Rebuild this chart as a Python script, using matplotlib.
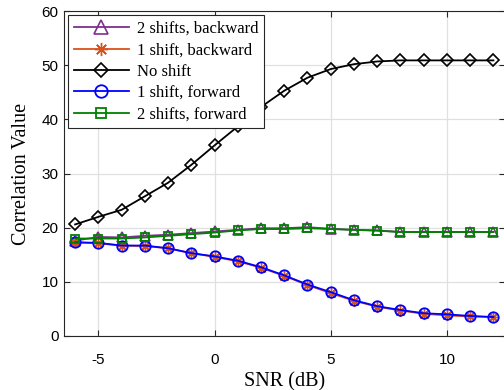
import numpy as np
import matplotlib
matplotlib.use("Agg")
import matplotlib.pyplot as plt

plt.rcParams["axes.unicode_minus"] = False

# SNR points and correlation values
snr = [-6, -5, -4, -3, -2, -1, 0, 1, 2, 3, 4, 5, 6, 7, 8, 9, 10, 11, 12]

two_back = [17.6, 18.3, 18.2, 18.5, 18.7, 19.0, 19.3, 19.6, 19.9, 19.9, 20.1,
            19.8, 19.6, 19.5, 19.2, 19.2, 19.2, 19.2, 19.2]
one_back = [17.3, 17.1, 16.7, 16.6, 16.2, 15.3, 14.6, 13.8, 12.6, 11.1, 9.4,
            7.9, 6.5, 5.4, 4.7, 4.1, 3.8, 3.6, 3.5]
no_shift = [20.6, 22.0, 23.3, 25.8, 28.3, 31.6, 35.2, 38.7, 42.3, 45.3, 47.7,
            49.3, 50.2, 50.7, 50.9, 50.9, 50.9, 50.9, 50.9]
one_fwd = [17.3, 17.2, 16.7, 16.7, 16.2, 15.3, 14.7, 13.9, 12.7, 11.2, 9.5,
           8.1, 6.6, 5.5, 4.8, 4.2, 4.0, 3.7, 3.5]
two_fwd = [18.0, 18.0, 18.0, 18.2, 18.5, 18.8, 19.1, 19.5, 19.75, 19.75, 19.9,
           19.75, 19.6, 19.45, 19.2, 19.2, 19.2, 19.2, 19.2]

labels = ["2 shifts, backward", "1 shift, backward", "No shift",
          "1 shift, forward", "2 shifts, forward"]

serif = "Liberation Serif"
sans = "Liberation Sans"

fig = plt.figure(figsize=(5.04, 3.9), dpi=100)
ax = fig.add_axes([0.126, 0.1385, 0.876, 0.833])

ax.plot(snr, two_back, color="#7E2F8E", lw=1.3, marker="^", ms=7,
        mfc="none", mew=1.2, label=labels[0])
ax.plot(snr, one_back, color="#D95319", lw=1.3, marker=(8, 2, 0), ms=8,
        mfc="none", mew=1.0, label=labels[1])
ax.plot(snr, no_shift, color="black", lw=1.3, marker="D", ms=6.3,
        mfc="none", mew=1.2, label=labels[2])
ax.plot(snr, one_fwd, color="#0000FF", lw=1.3, marker="o", ms=7.5,
        mfc="none", mew=1.3, label=labels[3])
ax.plot(snr, two_fwd, color="#008000", lw=1.3, marker="s", ms=6,
        mfc="none", mew=1.3, label=labels[4])

ax.set_xlim(-6.5, 12.5)
ax.set_ylim(0, 60)
ax.set_xticks([-5, 0, 5, 10])
ax.set_yticks([0, 10, 20, 30, 40, 50, 60])
ax.grid(True, color="#e0e0e0", lw=0.9)
ax.set_axisbelow(True)
ax.tick_params(direction="in", top=True, right=True, length=4, width=0.8,
               labelsize=11, colors="#262626", labelcolor="black")
for lab in ax.get_xticklabels() + ax.get_yticklabels():
    lab.set_family(sans)
for sp in ax.spines.values():
    sp.set_color("#262626")
    sp.set_linewidth(0.8)
ax.tick_params(axis="x", pad=12)

ax.set_xlabel("SNR (dB)", family=serif, fontsize=14.5, labelpad=4)
ax.set_ylabel("Correlation Value", family=serif, fontsize=14.5, labelpad=8)

leg = ax.legend(loc="upper left", prop={"family": serif, "size": 12},
                fancybox=False, framealpha=1, edgecolor="#262626",
                handlelength=3.3, handletextpad=0.5, labelspacing=0.32,
                borderaxespad=0.25, borderpad=0.35)
leg.get_frame().set_linewidth(0.8)
# legend markers are drawn a bit larger than the plotted ones
for h, s in zip(leg.legend_handles, [9.5, 9.5, 7.5, 9, 6.5]):
    h.set_markersize(s)

fig.savefig("out.png", dpi=100)
